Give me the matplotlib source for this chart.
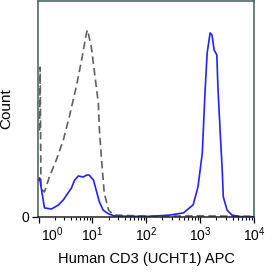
import numpy as np
import matplotlib
matplotlib.use("Agg")
import matplotlib.pyplot as plt
from matplotlib.transforms import ScaledTranslation

plt.rcParams['font.family'] = ['Liberation Sans', 'DejaVu Sans']

# stained sample (blue), log10 of intensity vs count (% of axis height)
stain_logx = [0.0, 0.02, 0.11, 0.24, 0.37, 0.46, 0.56, 0.61, 0.67, 0.74, 0.83, 0.89,
              0.94, 1.02, 1.07, 1.13, 1.20, 1.30, 1.41, 1.70, 2.07, 2.44, 2.69,
              2.87, 2.96, 3.04, 3.09, 3.13, 3.185, 3.22, 3.26, 3.31, 3.33, 3.37,
              3.41, 3.43, 3.50, 3.59, 3.74, 4.0]
stain_count = [17.0, 18.1, 4.2, 3.7, 5.6, 7.9, 11.6, 13.4, 17.1, 19.0, 18.5, 19.4,
               19.4, 17.1, 12.5, 6.9, 3.2, 1.4, 0.5, 0.3, 0.3, 0.9, 1.9,
               5.6, 13.9, 29.6, 57.4, 75.9, 85.2, 84.3, 77.3, 75.0, 60.2, 40.3,
               21.8, 9.3, 3.2, 0.9, 0.2, 0.1]

# isotype control (dashed gray)
ctrl_logx = [0.02, 0.03, 0.045, 0.11, 0.20, 0.33, 0.46, 0.57, 0.70, 0.80, 0.89,
             0.91, 0.98, 1.04, 1.11, 1.13, 1.17, 1.22, 1.30, 1.39, 2.0, 3.0, 4.0]
ctrl_count = [40.0, 69.4, 13.0, 11.6, 18.5, 26.4, 35.6, 46.3, 60.2, 72.7, 85.2,
              86.6, 78.7, 66.7, 52.8, 40.3, 26.4, 11.1, 3.2, 0.9, 0.4, 0.5, 0.3]

xtick_exps = [0, 1, 2, 3, 4]

fig = plt.figure(figsize=(2.8, 2.8), dpi=100)
ax = fig.add_axes([38 / 280, 1 - 217 / 280, 216 / 280, 216 / 280])

ax.plot(10 ** np.array(ctrl_logx), ctrl_count, color='#606060', lw=1.2,
        dashes=(4.5, 2.5))
ax.plot(10 ** np.array(stain_logx), stain_count, color='#2222ff', lw=1.2)

ax.set_xscale('log')
ax.set_xlim(10 ** -0.01, 10 ** 4)
ax.set_ylim(0, 100)
ax.set_xticks([10.0 ** e for e in xtick_exps])
ax.set_xticklabels([r'$\mathregular{10^{%d}}$' % e for e in xtick_exps])
minors = [m * 10.0 ** e for e in range(0, 4) for m in range(2, 10)]
ax.set_xticks(minors, minor=True)
ax.set_yticks([0])
ax.set_yticklabels(['0'])

ax.tick_params(axis='x', which='major', length=4, width=0.9, labelsize=10, pad=2)
ax.tick_params(axis='x', which='minor', length=2.5, width=0.8)
ax.tick_params(axis='y', length=4, width=0.9, labelsize=10, pad=2)

for s in ax.spines.values():
    s.set_color('#3d5c5c')
    s.set_linewidth(1.1)
ax.spines['bottom'].set_color('#222222')

# first label sits a little right of the axis corner
lbl = ax.get_xticklabels()[0]
lbl.set_transform(lbl.get_transform() + ScaledTranslation(0.14, 0, fig.dpi_scale_trans))

ax.set_xlabel('Human CD3 (UCHT1) APC', fontsize=10.5, labelpad=6)
ax.set_ylabel('Count', fontsize=11, labelpad=6)

fig.savefig('out.png', dpi=100)
